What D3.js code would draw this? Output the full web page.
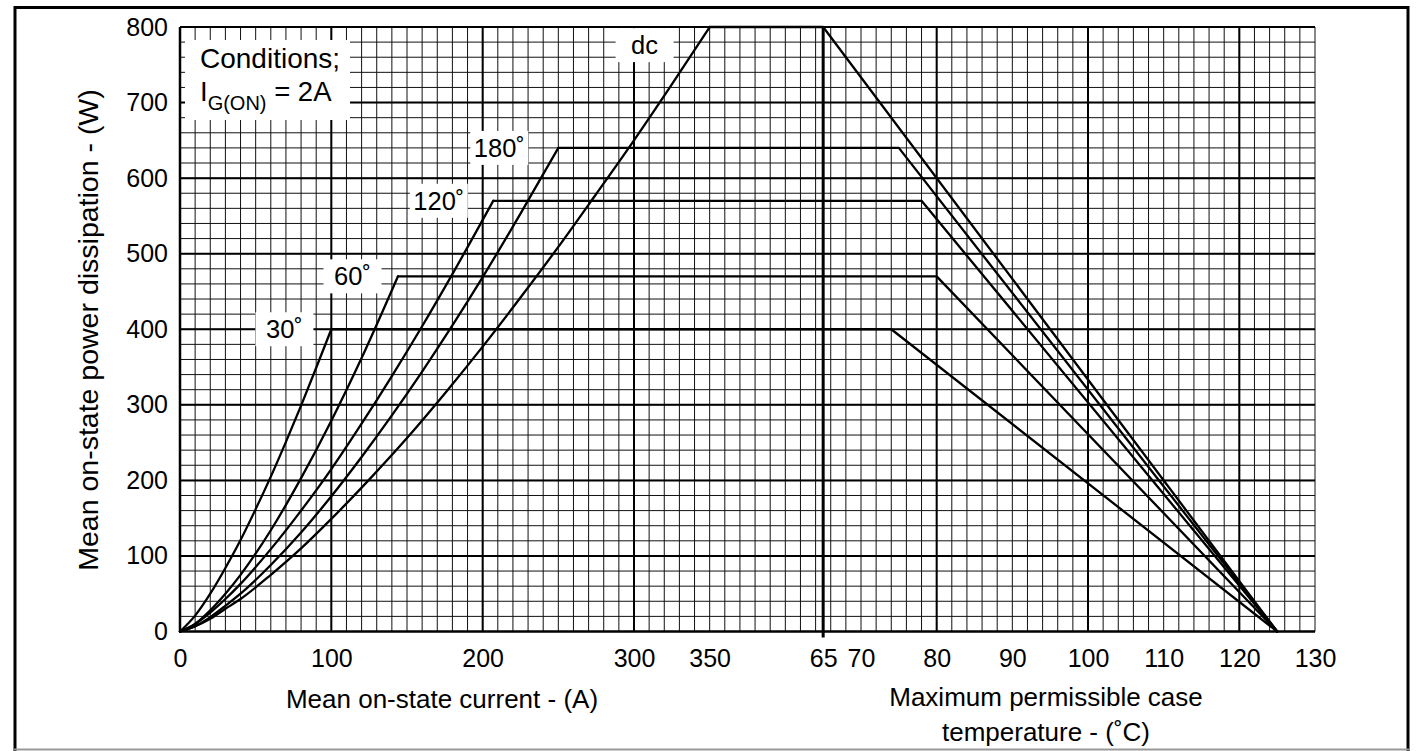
<!DOCTYPE html>
<html>
<head>
<meta charset="utf-8">
<script src="https://cdnjs.cloudflare.com/ajax/libs/d3/7.8.5/d3.min.js"></script>
<style>
    html, body { margin: 0; padding: 0; background: #fff; }
    svg { display: block; font-family: "Liberation Sans", Arial, Helvetica, sans-serif; }
</style>
</head>
<body>
<svg id="chart"></svg>
<script>
// conduction angles and where each curve levels off
var angleLabels = ["30˚", "60˚", "120˚", "180˚", "dc"];
var peakPower = [400, 470, 570, 640, 800];     // W
var peakCurrent = [100, 144, 207, 250, 350];   // A
var kneeTemp = [74, 80, 78, 75, 65];           // degC where the derating line starts
var maxCaseTemp = 125;                         // all derating lines end here at 0 W

// rising part of each curve (current A / power W)
var riseCurrent = [
    [0, 10, 20, 30, 40, 50, 60, 70, 80, 90, 100],
    [0, 10, 20, 30, 40, 60, 80, 100, 120, 144],
    [0, 10, 20, 30, 40, 60, 80, 100, 120, 140, 160, 180, 207],
    [0, 10, 20, 30, 40, 60, 80, 100, 120, 140, 160, 180, 200, 225, 250],
    [0, 10, 20, 30, 40, 60, 80, 100, 125, 150, 175, 200, 225, 250, 275, 300, 325, 350]
];
var risePower = [
    [0, 21, 50, 84, 121, 162, 205, 251, 299, 349, 400],
    [0, 10, 28, 50, 75, 134, 203, 279, 362, 470],
    [0, 10, 25, 43, 63, 109, 160, 215, 275, 338, 404, 473, 570],
    [0, 7, 19, 34, 50, 88, 131, 179, 231, 286, 344, 405, 469, 553, 640],
    [0, 7, 17, 30, 43, 75, 110, 149, 201, 256, 315, 377, 442, 509, 579, 650, 724, 800]
];

// where the angle tags sit (current A / power W)
var labelCurrent = [69, 114, 171, 211, 307];
var labelPower = [400, 470, 570, 640, 776];

var currentTicks = [0, 100, 200, 300, 350];
var tempTicks = [65, 70, 80, 90, 100, 110, 120, 130];
var powerTicks = [0, 100, 200, 300, 400, 500, 600, 700, 800];

var width = 1417, height = 751;
var plot = {left: 180, right: 1315, top: 27, bottom: 631.5};

var svg = d3.select("#chart").attr("width", width).attr("height", height);

// the x axis is one sheet of 75 squares: 35 for current, 40 for temperature
var cells = d3.scaleLinear().domain([0, 75]).range([plot.left, plot.right]);
var xI = d3.scaleLinear().domain([0, 350]).range([cells(0), cells(35)]);
var xT = d3.scaleLinear().domain([50, 130]).range([cells(35), cells(75)]);
var y = d3.scaleLinear().domain([0, 800]).range([plot.bottom, plot.top]);

// outer frame
svg.append("path")
    .attr("d", "M15,751 V7.5 H1408 V751")
    .attr("fill", "none")
    .attr("stroke", "#000")
    .attr("stroke-width", 3);
svg.append("line")
    .attr("x1", 14).attr("x2", 1409).attr("y1", 749.5).attr("y2", 749.5)
    .attr("stroke", "#999").attr("stroke-width", 2);

// grid
var grid = svg.append("g").attr("class", "grid");

grid.selectAll(".vminor")
    .data(d3.range(0, 76))
    .enter().append("line")
    .attr("class", "vminor")
    .attr("x1", function (d) { return cells(d); })
    .attr("x2", function (d) { return cells(d); })
    .attr("y1", y(800))
    .attr("y2", y(0))
    .attr("stroke", "#111")
    .attr("stroke-width", 1);

grid.selectAll(".hminor")
    .data(d3.range(0, 801, 20))
    .enter().append("line")
    .attr("class", "hminor")
    .attr("x1", plot.left)
    .attr("x2", plot.right)
    .attr("y1", function (d) { return y(d); })
    .attr("y2", function (d) { return y(d); })
    .attr("stroke", "#111")
    .attr("stroke-width", 1);

var majorX = [100, 200, 300].map(function (d) { return xI(d); })
    .concat([80, 100, 120].map(function (d) { return xT(d); }));

grid.selectAll(".vmajor")
    .data(majorX)
    .enter().append("line")
    .attr("class", "vmajor")
    .attr("x1", function (d) { return d; })
    .attr("x2", function (d) { return d; })
    .attr("y1", y(800))
    .attr("y2", y(0))
    .attr("stroke", "#000")
    .attr("stroke-width", 2);

grid.selectAll(".hmajor")
    .data(powerTicks)
    .enter().append("line")
    .attr("class", "hmajor")
    .attr("x1", plot.left)
    .attr("x2", plot.right)
    .attr("y1", function (d) { return y(d); })
    .attr("y2", function (d) { return y(d); })
    .attr("stroke", "#000")
    .attr("stroke-width", 2);

// axis lines
svg.append("line")
    .attr("x1", plot.left).attr("x2", plot.left)
    .attr("y1", y(800)).attr("y2", y(0))
    .attr("stroke", "#000").attr("stroke-width", 2.5);
svg.append("line")
    .attr("x1", plot.left).attr("x2", plot.right)
    .attr("y1", y(0)).attr("y2", y(0))
    .attr("stroke", "#000").attr("stroke-width", 2);

// the 65 degC marker
svg.append("line")
    .attr("x1", xT(65)).attr("x2", xT(65))
    .attr("y1", y(800)).attr("y2", y(0) + 6)
    .attr("stroke", "#000").attr("stroke-width", 3);

// label tags, white boxes that hide the grid
var tags = svg.append("g").attr("class", "tags");

tags.append("rect")
    .attr("x", 185).attr("y", 40).attr("width", 165).attr("height", 80)
    .attr("fill", "#fff");

tags.append("text")
    .attr("x", 200).attr("y", 68)
    .attr("font-size", 28)
    .attr("fill", "#000")
    .text("Conditions;");
var cond2 = tags.append("text")
    .attr("x", 200).attr("y", 101)
    .attr("font-size", 27.5)
    .attr("fill", "#000");
cond2.append("tspan").text("I");
cond2.append("tspan").attr("font-size", 20).attr("dy", 9).text("G(ON)");
cond2.append("tspan").attr("dy", -9).text(" = 2A");

var tag = tags.selectAll(".tag")
    .data(angleLabels)
    .enter().append("g")
    .attr("class", "tag")
    .attr("transform", function (d, i) {
        return "translate(" + xI(labelCurrent[i]) + "," + y(labelPower[i]) + ")";
    });

tag.append("rect")
    .attr("x", -29).attr("y", -17).attr("width", 58).attr("height", 34)
    .attr("fill", "#fff");

tag.append("text")
    .attr("text-anchor", "middle")
    .attr("y", 9)
    .attr("font-size", 25.5)
    .attr("fill", "#000")
    .text(function (d) { return d; });

// curves
var rise = d3.line()
    .x(function (d) { return xI(d[0]); })
    .y(function (d) { return y(d[1]); })
    .curve(d3.curveMonotoneX);

var curves = svg.append("g").attr("class", "curves")
    .attr("fill", "none")
    .attr("stroke", "#000")
    .attr("stroke-width", 2.3)
    .attr("stroke-linejoin", "round")
    .attr("stroke-linecap", "round");

angleLabels.forEach(function (name, i) {
    var pts = riseCurrent[i].map(function (c, j) { return [c, risePower[i][j]]; });
    curves.append("path").attr("d", rise(pts));

    var derate = [
        [xI(peakCurrent[i]), y(peakPower[i])],
        [xT(kneeTemp[i]), y(peakPower[i])],
        [xT(maxCaseTemp), y(0)]
    ];
    curves.append("path").attr("d", d3.line()(derate));
});

// tick labels
var yAxis = svg.append("g")
    .attr("transform", "translate(" + plot.left + ",0)")
    .call(d3.axisLeft(y).tickValues(powerTicks).tickSize(0).tickPadding(12));
yAxis.select(".domain").remove();

var xAxisI = svg.append("g")
    .attr("transform", "translate(0," + plot.bottom + ")")
    .call(d3.axisBottom(xI).tickValues(currentTicks).tickSize(0).tickPadding(18));
xAxisI.select(".domain").remove();

var xAxisT = svg.append("g")
    .attr("transform", "translate(0," + plot.bottom + ")")
    .call(d3.axisBottom(xT).tickValues(tempTicks).tickSize(0).tickPadding(18));
xAxisT.select(".domain").remove();

svg.selectAll(".tick text")
    .attr("font-family", "Liberation Sans, Arial, sans-serif")
    .attr("font-size", 25)
    .attr("fill", "#000");

// axis titles
svg.append("text")
    .attr("x", 442).attr("y", 708)
    .attr("text-anchor", "middle")
    .attr("font-size", 26)
    .text("Mean on-state current - (A)");

svg.append("text")
    .attr("x", 1046).attr("y", 706)
    .attr("text-anchor", "middle")
    .attr("font-size", 26)
    .text("Maximum permissible case");

svg.append("text")
    .attr("x", 1046).attr("y", 741)
    .attr("text-anchor", "middle")
    .attr("font-size", 26)
    .text("temperature - (˚C)");

svg.append("text")
    .attr("transform", "translate(98,330) rotate(-90)")
    .attr("text-anchor", "middle")
    .attr("font-size", 28.5)
    .text("Mean on-state power dissipation - (W)");
</script>
</body>
</html>
